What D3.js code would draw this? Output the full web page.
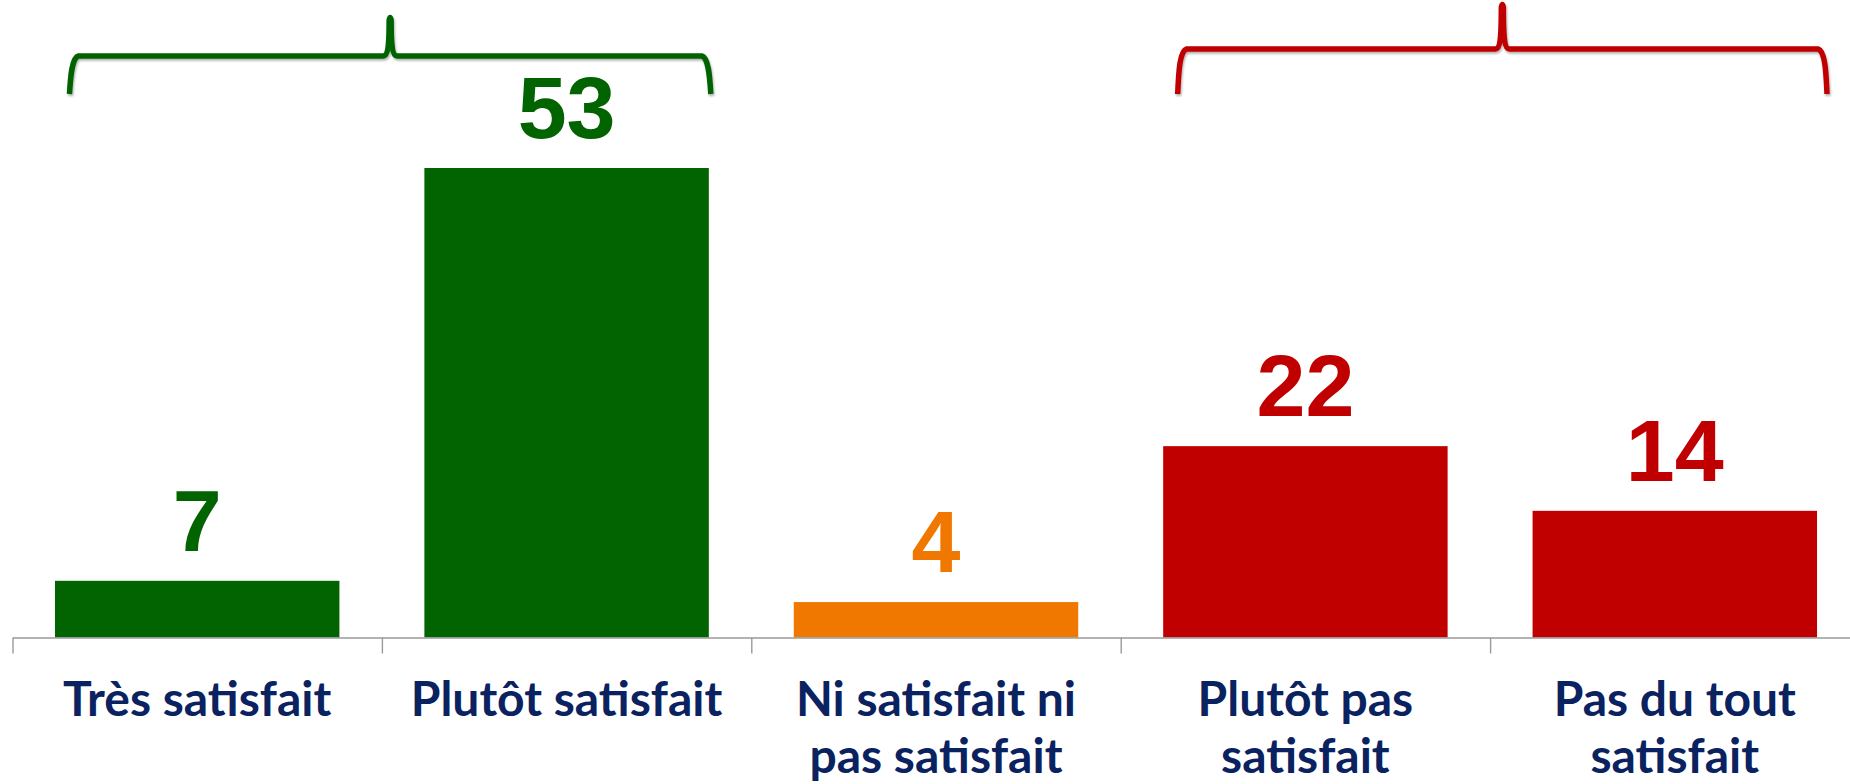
<!DOCTYPE html>
<html>
<head>
<meta charset="utf-8">
<script src="https://cdn.jsdelivr.net/npm/d3@7"></script>
<style>
  html, body { margin: 0; padding: 0; background: #fff; }
  svg { display: block; }
</style>
</head>
<body>
<div id="chart-area"></div>
<script>
// chart data
var categories = ["Très satisfait", "Plutôt satisfait", "Ni satisfait ni\npas satisfait", "Plutôt pas\nsatisfait", "Pas du tout\nsatisfait"];
var values = [6.4, 53, 4.0, 21.6, 14.3];
var valueLabels = ["7", "53", "4", "22", "14"];
var groups = ["pos", "pos", "neutral", "neg", "neg"];
// braces cover categories by index
var braceFrom = [0, 3];
var braceTo = [1, 4];
var braceGroup = ["pos", "neg"];

var width = 1850, height = 784;

var colors = { pos: "#016401", neutral: "#F07800", neg: "#C00000" };
var labelColor = "#0A2260";

var svg = d3.select("#chart-area")
    .append("svg")
    .attr("width", width)
    .attr("height", height);

// soft shadow used on braces
var defs = svg.append("defs");
defs.append("filter")
    .attr("id", "shadow")
    .attr("x", "-10%").attr("y", "-50%")
    .attr("width", "120%").attr("height", "200%")
    .append("feDropShadow")
    .attr("dx", 1).attr("dy", 2)
    .attr("stdDeviation", 1.3)
    .attr("flood-color", "#000")
    .attr("flood-opacity", 0.3);

//scales
var x = d3.scaleBand()
    .domain(d3.range(categories.length))
    .range([12.5, 1859.5])
    .paddingInner(0.23)
    .paddingOuter(0.115);

var y = d3.scaleLinear()
    .domain([0, 53])
    .range([637.5, 168]);

// boundary ticks between categories
var xb = d3.scaleLinear()
    .domain([0, categories.length])
    .range(x.range());

var xAxis = d3.axisBottom(xb)
    .tickValues(d3.range(categories.length + 1))
    .tickSize(16)
    .tickSizeOuter(0)
    .tickFormat("");

//bars
svg.selectAll("rect.bar")
    .data(values)
    .enter()
    .append("rect")
    .attr("class", "bar")
    .attr("x", (d, i) => x(i))
    .attr("y", d => y(d))
    .attr("width", x.bandwidth())
    .attr("height", d => y(0) - y(d))
    .attr("fill", (d, i) => colors[groups[i]]);

var axisG = svg.append("g")
    .attr("transform", "translate(0," + y(0) + ")")
    .call(xAxis);
axisG.select(".domain")
    .attr("stroke", "#9a9a9a")
    .attr("stroke-width", 1.6);
axisG.selectAll(".tick line")
    .attr("stroke", "#9a9a9a")
    .attr("stroke-width", 1.4);

// value labels
svg.selectAll("text.value")
    .data(values)
    .enter()
    .append("text")
    .attr("class", "value")
    .attr("x", (d, i) => x(i) + x.bandwidth() / 2)
    .attr("y", d => y(d) - 30)
    .attr("text-anchor", "middle")
    .attr("font-family", "'Liberation Sans', Arial, sans-serif")
    .attr("font-weight", "bold")
    .attr("font-size", "88px")
    .attr("fill", (d, i) => colors[groups[i]])
    .text((d, i) => valueLabels[i]);

// category labels
var catText = svg.selectAll("text.cat")
    .data(categories)
    .enter()
    .append("text")
    .attr("class", "cat")
    .attr("text-anchor", "middle")
    .attr("font-family", "Lato, 'Open Sans', sans-serif")
    .attr("font-weight", "bold")
    .attr("font-size", "48px")
    .attr("fill", labelColor);

catText.each(function (d, i) {
    var cx = x(i) + x.bandwidth() / 2;
    d3.select(this).selectAll("tspan")
        .data(d.split("\n"))
        .enter()
        .append("tspan")
        .attr("x", cx)
        .attr("y", (line, j) => 716 + j * 57)
        .text(line => line);
});

// curly braces over groups
var braceStyle = {
    pos: { yTip: 16, yLine: 56, yEnd: 94, padL: 14.5, padR: 2 },
    neg: { yTip: 3, yLine: 49, yEnd: 94, padL: 14.5, padR: 10 }
};

function bracePath(x0, x1, s) {
    var xm = (x0 + x1) / 2;
    var p = d3.path();
    p.moveTo(x0, s.yEnd);
    p.bezierCurveTo(x0 + 1, s.yLine + 22, x0 + 2, s.yLine + 2, x0 + 9, s.yLine);
    p.lineTo(xm - 7, s.yLine);
    p.bezierCurveTo(xm - 2, s.yLine, xm - 1, s.yLine - 12, xm - 1, s.yTip + 4);
    p.quadraticCurveTo(xm, s.yTip - 1, xm + 1, s.yTip + 4);
    p.bezierCurveTo(xm + 1, s.yLine - 12, xm + 2, s.yLine, xm + 7, s.yLine);
    p.lineTo(x1 - 9, s.yLine);
    p.bezierCurveTo(x1 - 2, s.yLine + 2, x1 - 1, s.yLine + 22, x1, s.yEnd);
    return p.toString();
}

svg.selectAll("path.brace")
    .data(braceGroup)
    .enter()
    .append("path")
    .attr("class", "brace")
    .attr("d", (g, k) => {
        var s = braceStyle[g];
        var x0 = x(braceFrom[k]) + s.padL;
        var x1 = x(braceTo[k]) + x.bandwidth() + s.padR;
        return bracePath(x0, x1, s);
    })
    .attr("fill", "none")
    .attr("stroke", g => colors[g])
    .attr("stroke-width", 5.5)
    .attr("stroke-linejoin", "round")
    .attr("filter", "url(#shadow)");
</script>
</body>
</html>
